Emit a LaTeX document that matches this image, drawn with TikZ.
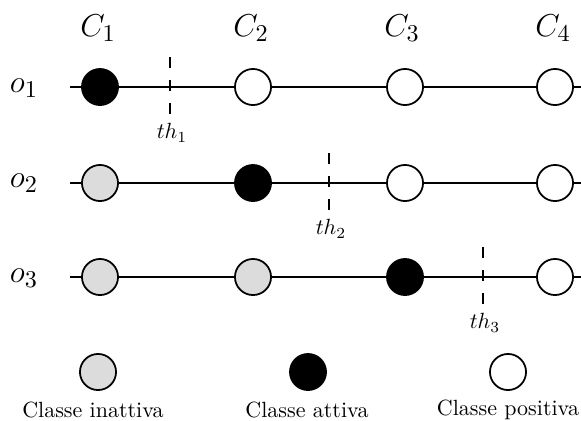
\documentclass[tikz,border=0pt]{standalone}
\begin{document}
\begin{tikzpicture}[x=0.4545pt,y=-0.4545pt,
  cls/.style={circle,draw,line width=0.8pt,minimum size=16.4pt,inner sep=0pt},
  inactclass/.style={cls,fill=inactgray},
  actclass/.style={cls,fill=black},
  posclass/.style={cls,fill=white},
  axisline/.style={line width=0.8pt},
  thr/.style={line width=0.8pt,dash pattern=on 5pt off 5.5pt},
  hdr/.style={font=\fontsize{15}{18}\selectfont},
  lbl/.style={font=\normalsize}]
\definecolor{inactgray}{RGB}{220,220,220}
\useasboundingbox (0,0) rectangle (581,421);
% column headers
\node[hdr] (h1) at (98,28) {$C_1$};
\node[hdr] (h2) at (251,28) {$C_2$};
\node[hdr] (h3) at (402,28) {$C_3$};
\node[hdr] (h4) at (553,28) {$C_4$};
% row labels
\node[hdr] (r1) at (24,88) {$o_1$};
\node[hdr] (r2) at (24,183) {$o_2$};
\node[hdr] (r3) at (24,278) {$o_3$};
% row 1
\coordinate (s1) at (70,87);
\coordinate (e1) at (581,87);
\node[actclass] (a11) at (100,87) {};
\node[posclass] (a12) at (253,87) {};
\node[posclass] (a13) at (405,87) {};
\node[posclass] (a14) at (555,87) {};
\draw[axisline] (s1) -- (a11) (a11) -- (a12) (a12) -- (a13) (a13) -- (a14) (a14) -- (e1);
% row 2
\coordinate (s2) at (70,183);
\coordinate (e2) at (581,183);
\node[inactclass] (a21) at (100,183) {};
\node[actclass] (a22) at (253,183) {};
\node[posclass] (a23) at (405,183) {};
\node[posclass] (a24) at (555,183) {};
\draw[axisline] (s2) -- (a21) (a21) -- (a22) (a22) -- (a23) (a23) -- (a24) (a24) -- (e2);
% row 3
\coordinate (s3) at (70,277);
\coordinate (e3) at (581,277);
\node[inactclass] (a31) at (100,277) {};
\node[inactclass] (a32) at (253,277) {};
\node[actclass] (a33) at (405,277) {};
\node[posclass] (a34) at (555,277) {};
\draw[axisline] (s3) -- (a31) (a31) -- (a32) (a32) -- (a33) (a33) -- (a34) (a34) -- (e3);
% thresholds
\coordinate (t1a) at (170,57);
\coordinate (t1b) at (170,116);
\draw[thr] (t1a) -- (t1b);
\node[lbl] (th1) at (172,133) {$th_1$};
\coordinate (t2a) at (329,153);
\coordinate (t2b) at (329,212);
\draw[thr] (t2a) -- (t2b);
\node[lbl] (th2) at (331,229) {$th_2$};
\coordinate (t3a) at (483,247);
\coordinate (t3b) at (483,306);
\draw[thr] (t3a) -- (t3b);
\node[lbl] (th3) at (485,323) {$th_3$};
% legend
\node[inactclass] (l1) at (98,372) {};
\node[actclass] (l2) at (308,372) {};
\node[posclass] (l3) at (508,372) {};
\node[lbl] (lt1) at (93,410) {Classe inattiva};
\node[lbl] (lt2) at (307,410) {Classe attiva};
\node[lbl] (lt3) at (508,410) {Classe positiva};
\end{tikzpicture}
\end{document}
